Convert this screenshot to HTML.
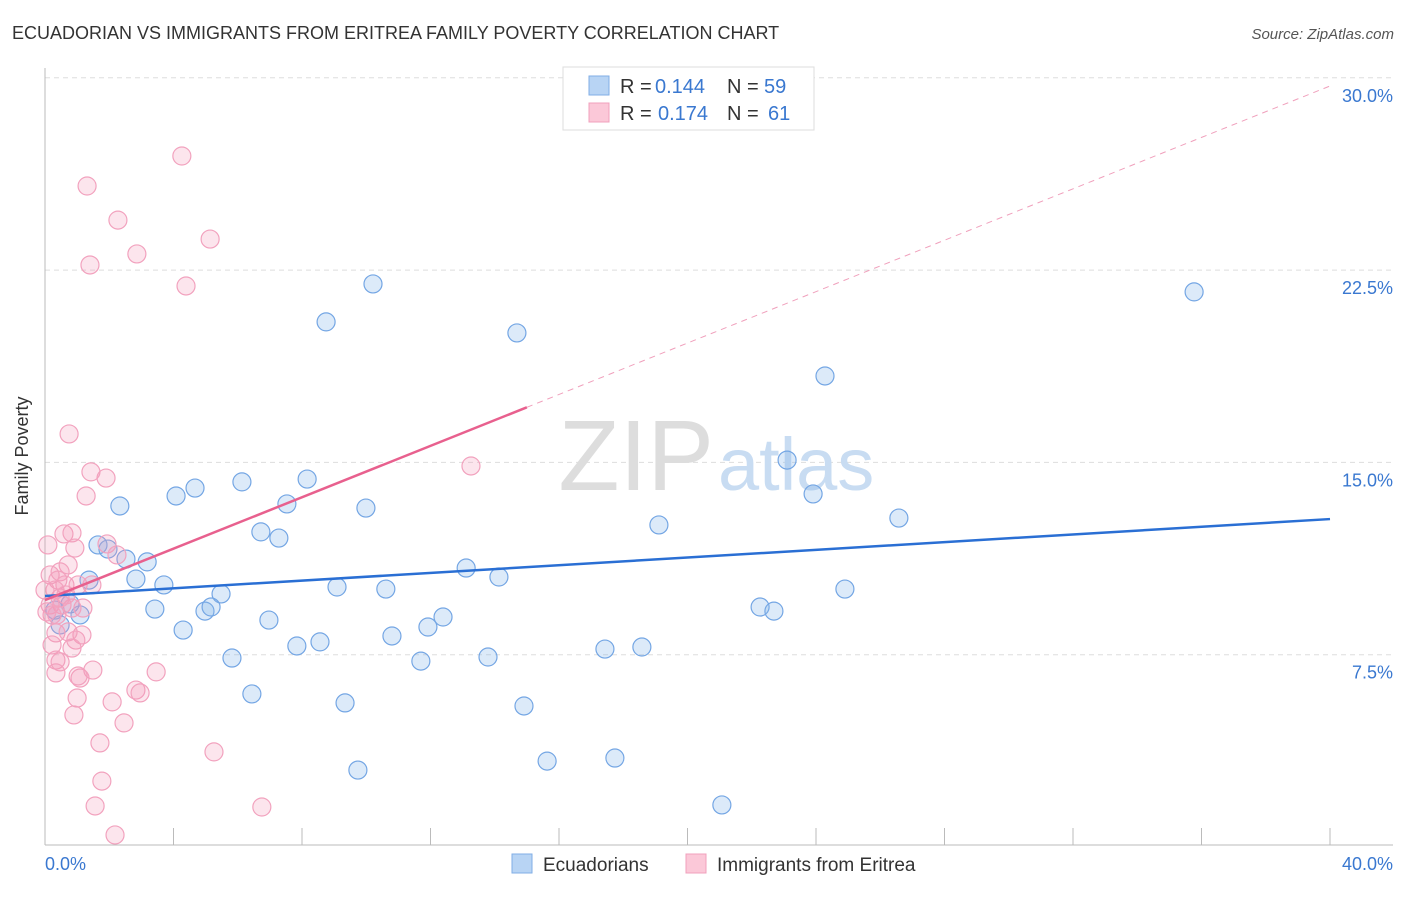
<!DOCTYPE html>
<html><head><meta charset="utf-8"><style>
body{margin:0;background:#fff;font-family:"Liberation Sans",sans-serif;}
svg text{font-family:"Liberation Sans",sans-serif;}
</style></head><body>
<svg id="chart" width="1406" height="892">
<text x="12" y="39" font-size="18" fill="#333">ECUADORIAN VS IMMIGRANTS FROM ERITREA FAMILY POVERTY CORRELATION CHART</text>
<text x="1394" y="39" font-size="15" fill="#555" font-style="italic" text-anchor="end">Source: ZipAtlas.com</text>
<g id="grid"></g>
<text x="714" y="490" font-size="100" font-family="Liberation Serif" fill="#ddd" text-anchor="end">ZIP</text>
<text x="718" y="490" font-size="74" fill="#c8dcf2">atlas</text>
<line x1="45" y1="68" x2="45" y2="845" stroke="#bbb"/>
<line x1="45" y1="845" x2="1393" y2="845" stroke="#bbb"/>
<g id="xticks"></g>
<g id="pts"></g>
<g id="lines"></g>
<text x="28" y="456" font-size="18" fill="#333" text-anchor="middle" transform="rotate(-90 28 456)">Family Poverty</text>
<text x="45" y="870" font-size="18" fill="#3a78d0">0.0%</text>
<text x="1393" y="870" font-size="18" fill="#3a78d0" text-anchor="end">40.0%</text>
<g>
<rect x="563" y="67" width="251" height="63" fill="#fff" stroke="#ddd"/>
<rect x="589" y="76" width="20" height="19" fill="#b8d4f4" stroke="#80aee6"/>
<rect x="589" y="103" width="20" height="19" fill="#fbc8d8" stroke="#f0a0bc"/>
<text x="620" y="93" font-size="20" fill="#333">R =</text>
<text x="655" y="93" font-size="20" fill="#3a78d0">0.144</text>
<text x="727" y="93" font-size="20" fill="#333">N =</text>
<text x="764" y="93" font-size="20" fill="#3a78d0">59</text>
<text x="620" y="120" font-size="20" fill="#333">R =</text>
<text x="658" y="120" font-size="20" fill="#3a78d0">0.174</text>
<text x="727" y="120" font-size="20" fill="#333">N =</text>
<text x="768" y="120" font-size="20" fill="#3a78d0">61</text>
</g>
<g>
<rect x="512" y="854" width="20" height="19" fill="#b8d4f4" stroke="#80aee6"/>
<text x="543" y="871" font-size="19" fill="#333">Ecuadorians</text>
<rect x="686" y="854" width="20" height="19" fill="#fbc8d8" stroke="#f0a0bc"/>
<text x="717" y="871" font-size="19" fill="#333">Immigrants from Eritrea</text>
</g>
</svg>
<script>
const yTicks=[7.5,15,22.5,30];
const blueX=[10.21,8.75,14.69,35.77,24.28,23.10,23.91,26.58,19.11,9.99,8.16,7.53,6.13,4.67,4.08,2.33,1.65,1.96,2.52,3.18,6.72,7.28,1.37,2.83,3.70,5.48,9.09,10.61,13.11,14.13,24.90,22.26,22.69,3.42,4.98,5.17,6.97,4.30,7.84,8.56,10.80,11.92,12.39,5.82,11.70,13.79,17.43,18.58,6.44,9.34,14.91,9.74,15.63,17.74,21.07,1.09,0.78,0.47,0.31];
const blueY=[21.96,20.48,20.05,21.65,18.37,15.09,13.77,12.83,12.56,13.22,14.35,13.38,14.24,14.00,13.69,13.30,11.78,11.62,11.23,11.12,12.29,12.05,10.41,10.45,10.22,9.87,10.14,10.06,10.88,10.53,10.06,9.36,9.20,9.28,9.20,9.36,8.85,8.46,7.84,8.00,8.23,8.58,8.97,7.37,7.25,7.41,7.72,7.80,5.97,5.62,5.50,3.00,3.35,3.47,1.64,9.05,9.48,8.66,9.24];
const pinkX=[4.26,1.31,2.27,5.14,2.86,1.40,4.39,0.75,13.26,1.43,1.90,1.28,0.59,0.84,0.93,1.93,2.24,0.09,0.72,0.16,0.47,0.40,0.62,0.31,1.03,1.46,0.16,0.53,1.18,0.37,0.84,1.15,0.34,0.72,0.96,0.22,0.84,0.34,0.47,1.49,0.34,1.09,3.46,2.83,2.96,1.00,2.09,0.90,2.46,1.71,5.26,1.77,1.56,6.75,2.18,1.03,0.22,0.47,0.65,0.00,0.06];
const pinkY=[26.95,25.78,24.45,23.71,23.13,22.70,21.88,16.11,14.86,14.63,14.39,13.69,12.21,12.25,11.66,11.82,11.39,11.78,11.00,10.61,10.73,10.41,10.22,10.02,10.22,10.22,9.44,9.44,9.32,9.05,9.32,8.27,8.35,8.39,8.07,7.88,7.76,7.29,7.22,6.90,6.79,6.59,6.83,6.12,6.01,5.81,5.66,5.15,4.84,4.06,3.71,2.57,1.60,1.56,0.47,6.67,9.05,9.71,9.83,10.02,9.17];
const blueTrend=[9.79,12.79];
const pinkTrend=[9.63,29.68];
const pinkSolidEnd=15.0;
const NS='http://www.w3.org/2000/svg';
const sx=v=>45+v*32.125, sy=v=>847-v*25.64;
function mk(t,a,p){const e=document.createElementNS(NS,t);for(const k in a)e.setAttribute(k,a[k]);p.appendChild(e);return e;}
const grid=document.getElementById('grid');
yTicks.forEach(t=>{
 const l=mk('line',{x1:45,x2:1393,y1:sy(t),y2:sy(t),stroke:'#ddd','stroke-dasharray':'5,4'},grid);
 
 
 const tx=mk('text',{x:1393,y:sy(t)+24,'font-size':18,fill:'#3a78d0','text-anchor':'end'},grid);
 tx.textContent=t.toFixed(1)+'%';
 
 
});
const xt=document.getElementById('xticks');
for(let i=0;i<=10;i++){const l=mk('line',{x1:sx(i*4),x2:sx(i*4),y1:828,y2:845,stroke:'#bbb'},xt);
 
 }
const pts=document.getElementById('pts');
blueX.forEach((x,i)=>{const c=mk('circle',{cx:sx(x),cy:sy(blueY[i]),r:9,fill:'rgba(130,180,235,0.28)',stroke:'#74a6e4','stroke-width':1.2},pts);
 
 });
pinkX.forEach((x,i)=>{const c=mk('circle',{cx:sx(x),cy:sy(pinkY[i]),r:9,fill:'rgba(245,150,185,0.25)',stroke:'#f2a2be','stroke-width':1.2},pts);
 
 });
const lg=document.getElementById('lines');
const b=mk('line',{x1:sx(0),y1:sy(blueTrend[0]),x2:sx(40),y2:sy(blueTrend[1]),stroke:'#2a6fd4','stroke-width':2.5},lg);


const pe=pinkTrend[0]+(pinkTrend[1]-pinkTrend[0])*pinkSolidEnd/40;
const p=mk('line',{x1:sx(0),y1:sy(pinkTrend[0]),x2:sx(pinkSolidEnd),y2:sy(pe),stroke:'#e8608e','stroke-width':2.5},lg);


const pd=mk('line',{x1:sx(pinkSolidEnd),y1:sy(pe),x2:sx(40),y2:sy(pinkTrend[1]),stroke:'#f0a0bc','stroke-width':1,'stroke-dasharray':'6,5'},lg);


</script>
</body></html>
